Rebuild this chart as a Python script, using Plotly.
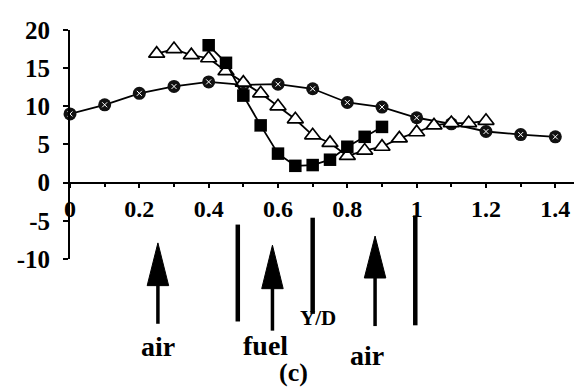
import plotly.graph_objects as go

# ---- data ----
circ_x = [0.0, 0.1, 0.2, 0.3, 0.4, 0.5, 0.6, 0.7, 0.8, 0.9, 1.0, 1.1, 1.2, 1.3, 1.4]
circ_y = [9.0, 10.2, 11.7, 12.6, 13.2, 12.8, 12.9, 12.3, 10.5, 9.9, 8.5, 7.7, 6.7, 6.3, 6.0]

tri_x = [0.25, 0.30, 0.35, 0.40, 0.45, 0.50, 0.55, 0.60, 0.65, 0.70,
         0.75, 0.80, 0.85, 0.90, 0.95, 1.00, 1.05, 1.10, 1.15, 1.20]
tri_y = [16.9, 17.5, 16.7, 16.3, 14.6, 13.1, 11.7, 10.0, 8.3, 6.2,
         5.2, 3.5, 4.2, 4.7, 5.8, 6.6, 7.5, 7.8, 7.8, 8.1]

sq_x = [0.40, 0.45, 0.50, 0.55, 0.60, 0.65, 0.70, 0.75, 0.80, 0.85, 0.90]
sq_y = [18.0, 15.7, 11.4, 7.5, 3.8, 2.2, 2.3, 3.0, 4.7, 6.0, 7.3]

x_ticks = [0, 0.2, 0.4, 0.6, 0.8, 1.0, 1.2, 1.4]
x_ticktext = ["0", "0.2", "0.4", "0.6", "0.8", "1", "1.2", "1.4"]
y_ticks = [-10, -5, 0, 5, 10, 15, 20]
y_ticktext = ["-10", "-5", "0", "5", "10", "15", "20"]

# flow-direction annotations below the axis
arrow_x = [0.2536, 0.584, 0.880]
arrow_labels = ["air", "fuel", "air"]
bar_x = [0.484, 0.700, 0.996]

# ---- layout constants ----
W, H = 582, 389
ML, MR, MT, MB = 62, 0, 22, 0
Y_RANGE = [-10, 20]
X_RANGE = [0, 1.5]
plot_h = H - MT - MB
d0 = 1 - (260 - MT) / plot_h          # main plot occupies pixel rows 22..260
y_span = Y_RANGE[1] - Y_RANGE[0]
y2_low = Y_RANGE[0] - d0 * y_span / (1 - d0)   # same unit scale for decoration axis
xaxis_pos = d0 + (0 - Y_RANGE[0]) / y_span * (1 - d0)

# decoration geometry (in y units of the same scale)
arrow_tip = [-7.9, -8.2, -7.0]
arrow_base = [-13.5, -13.9, -12.5]
arrow_tail = [-18.5, -19.4, -18.8]
head_half = 0.031
bar_top = [-5.5, -4.6, -4.3]
bar_bot = [-18.2, -17.2, -18.7]
label_y = [-21.5, -21.3, -22.7]
label_dx = [0.0, -0.02, -0.022]

SERIF = "Liberation Serif, Times New Roman, serif"
fig = go.Figure()

LW = 1.8
fig.add_trace(go.Scatter(x=circ_x, y=circ_y, mode="lines+markers",
                         line=dict(color="black", width=LW),
                         marker=dict(symbol="circle", size=13, color="#111111",
                                     line=dict(width=0)),
                         showlegend=False, cliponaxis=False))
fig.add_trace(go.Scatter(x=circ_x, y=circ_y, mode="markers",
                         marker=dict(symbol="x-thin", size=5,
                                     line=dict(color="white", width=1)),
                         showlegend=False, cliponaxis=False, hoverinfo="skip"))
fig.add_trace(go.Scatter(x=tri_x, y=tri_y, mode="lines+markers",
                         line=dict(color="black", width=LW),
                         marker=dict(symbol="triangle-up", size=14, color="white",
                                     line=dict(color="black", width=1.7)),
                         showlegend=False, cliponaxis=False))
fig.add_trace(go.Scatter(x=sq_x, y=sq_y, mode="lines+markers",
                         line=dict(color="black", width=LW),
                         marker=dict(symbol="square", size=12.5, color="black",
                                     line=dict(width=0)),
                         showlegend=False, cliponaxis=False))

# decorations in the lower subplot (x shared, y2 same scale)
for bx, bt, bb in zip(bar_x, bar_top, bar_bot):
    fig.add_trace(go.Scatter(x=[bx, bx], y=[bb, bt], xaxis="x", yaxis="y2",
                             mode="lines", line=dict(color="black", width=4.5),
                             showlegend=False, hoverinfo="skip"))
for ax_, tip, base, tail in zip(arrow_x, arrow_tip, arrow_base, arrow_tail):
    fig.add_trace(go.Scatter(x=[ax_, ax_], y=[tail, base + 0.5], xaxis="x", yaxis="y2",
                             mode="lines", line=dict(color="black", width=3.5),
                             showlegend=False, hoverinfo="skip"))
    fig.add_trace(go.Scatter(x=[ax_ - head_half, ax_, ax_ + head_half, ax_ - head_half],
                             y=[base, tip, base, base], xaxis="x", yaxis="y2",
                             mode="lines", fill="toself", fillcolor="black",
                             line=dict(color="black", width=1),
                             showlegend=False, hoverinfo="skip"))

for ax_, lab, ly, dx in zip(arrow_x, arrow_labels, label_y, label_dx):
    fig.add_annotation(x=ax_ + dx, y=ly, xref="x", yref="y2", text="<b>%s</b>" % lab,
                       showarrow=False, font=dict(family=SERIF, size=28, color="black"))
fig.add_annotation(x=0.715, y=-17.8, xref="x", yref="y2", text="<b>Y/D</b>",
                   showarrow=False, font=dict(family=SERIF, size=21, color="black"))
fig.add_annotation(x=0.646, y=-24.9, xref="x", yref="y2", text="<b>(c)</b>",
                   showarrow=False, font=dict(family=SERIF, size=26, color="black"))

XTICKFONT = dict(family=SERIF, size=24, color="black", weight="bold")
YTICKFONT = dict(family=SERIF, size=25, color="black", weight="bold")
fig.update_layout(
    width=W, height=H,
    margin=dict(l=ML, r=MR, t=MT, b=MB, pad=0),
    paper_bgcolor="white", plot_bgcolor="rgba(0,0,0,0)",
    showlegend=False,
    xaxis=dict(range=X_RANGE, domain=[0, 1], anchor="free", position=xaxis_pos,
               showgrid=False, zeroline=False, showline=True, linecolor="black",
               linewidth=2, tickvals=x_ticks, ticktext=x_ticktext,
               ticks="outside", ticklen=4, tickwidth=1.5, tickcolor="black",
               minor=dict(dtick=0.1, ticks="outside", ticklen=3, tickcolor="black"),
               ticklabelstandoff=1, tickfont=XTICKFONT),
    yaxis=dict(range=Y_RANGE, domain=[d0, 1], anchor="x",
               showgrid=False, zeroline=False, showline=True, linecolor="black",
               linewidth=2, tickvals=y_ticks, ticktext=y_ticktext, ticks="outside",
               ticklen=5, tickwidth=1.5, tickcolor="black", ticklabelstandoff=8,
               tickfont=YTICKFONT),
    yaxis2=dict(range=[y2_low, Y_RANGE[1]], domain=[0, 1], anchor="x",
                visible=False, showgrid=False, zeroline=False),
)

fig.write_html("out.html")
